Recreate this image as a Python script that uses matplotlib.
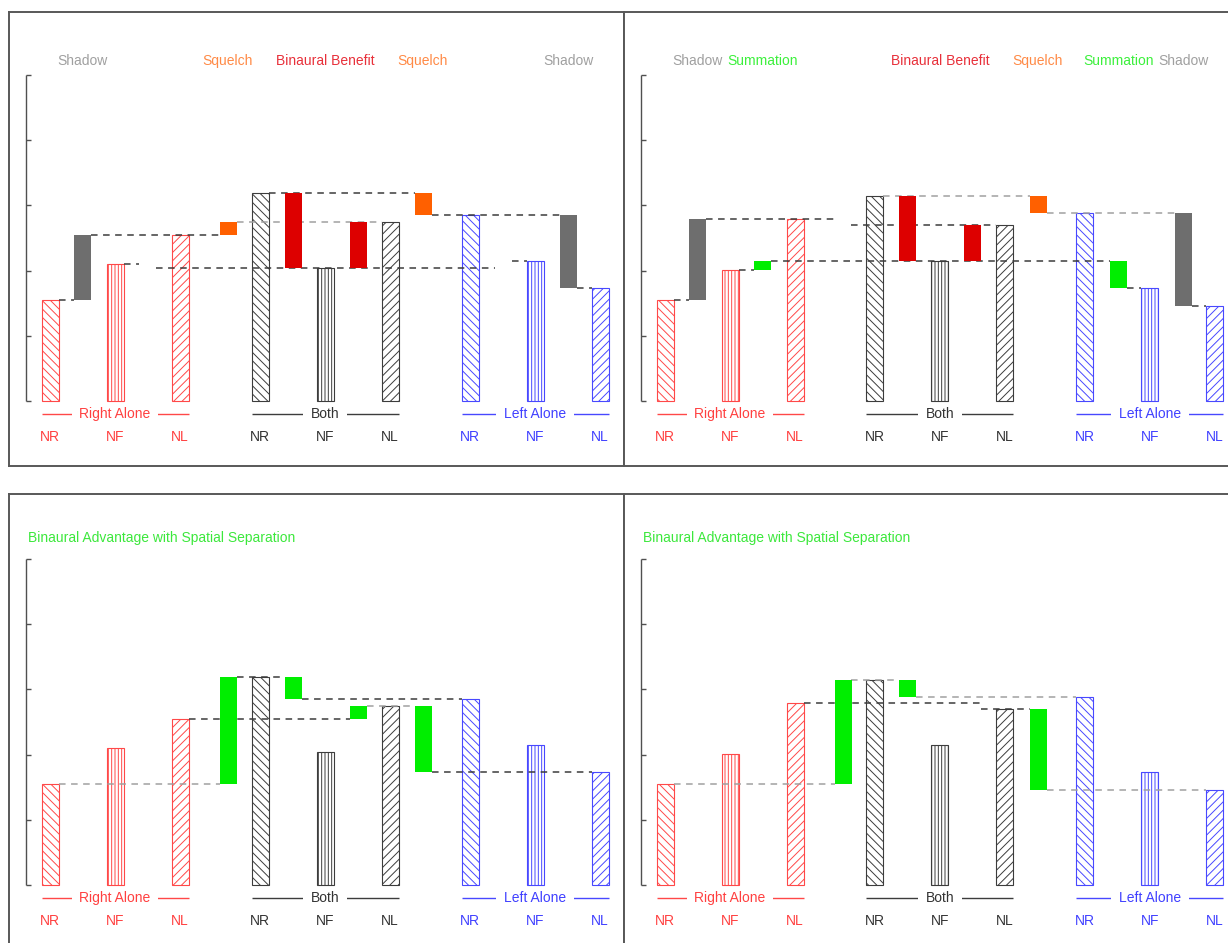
import matplotlib.pyplot as plt

plt.rcParams['font.family'] = ['Liberation Sans', 'DejaVu Sans']
plt.rcParams['hatch.linewidth'] = 0.7

# ---- data -------------------------------------------------------------
conditions = ["NR", "NF", "NL"]
groups = ["Right Alone", "Both", "Left Alone"]
group_keys = ["R", "B", "L"]

# left column (top-left and bottom-left panels)
right_a = [1.55, 2.10, 2.55]
both_a = [3.19, 2.04, 2.74]
left_a = [2.85, 2.15, 1.74]

# right column (top-right and bottom-right panels)
right_b = [1.55, 2.01, 2.79]
both_b = [3.15, 2.15, 2.70]
left_b = [2.89, 1.74, 1.45]

y_ticks = [0, 1, 2, 3, 4, 5]

headers_tl = [("Shadow", "g0"), ("Squelch", "g2"), ("Binaural Benefit", "g3|g4"),
              ("Squelch", "g5"), ("Shadow", "g7")]
headers_tr = [("Shadow", "g0"), ("Summation", "g1"), ("Binaural Benefit", "g3|g4"),
              ("Squelch", "g5"), ("Summation", "g6"), ("Shadow", "g7")]
title_bottom = "Binaural Advantage with Spatial Separation"

# floating difference bars: (slot, from level, to level, kind)
diffs_tl = [("g0", "R_NR", "R_NL", "shadow"), ("g2", "R_NL", "B_NL", "squelch"),
            ("g3", "B_NF", "B_NR", "benefit"), ("g4", "B_NF", "B_NL", "benefit"),
            ("g5", "L_NR", "B_NR", "squelch"), ("g7", "L_NL", "L_NR", "shadow")]
diffs_tr = [("g0", "R_NR", "R_NL", "shadow"), ("g1", "R_NF", "B_NF", "summation"),
            ("g3", "B_NF", "B_NR", "benefit"), ("g4", "B_NF", "B_NL", "benefit"),
            ("g5", "L_NR", "B_NR", "squelch"), ("g6", "L_NF", "B_NF", "summation"),
            ("g7", "L_NL", "L_NR", "shadow")]
diffs_bl = [("g2", "R_NR", "B_NR", "advantage"), ("g3", "L_NR", "B_NR", "advantage"),
            ("g4", "R_NL", "B_NL", "advantage"), ("g5", "L_NL", "B_NL", "advantage")]
diffs_br = [("g2", "R_NR", "B_NR", "advantage"), ("g3", "L_NR", "B_NR", "advantage"),
            ("g5", "L_NL", "B_NL", "advantage")]

# dashed guide lines: (level, from edge, to edge, dark?)
guides_tl = [("R_NR", "R_NR.r", "g0.l", True), ("R_NL", "g0.r", "g2.l", True),
             ("R_NF", "R_NF.r", "g1.l", True), ("B_NF", "g1.r", "g6.l", True),
             ("B_NL", "g2.r", "B_NL.l", False), ("B_NR", "B_NR.r", "g5.l", True),
             ("L_NR", "g5.r", "g7.l", True), ("L_NF", "g6.r", "L_NF.l", True),
             ("L_NL", "g7.r", "L_NL.l", True)]
guides_tr = [("R_NR", "R_NR.r", "g0.l", True), ("R_NL", "g0.r", "g2.l", True),
             ("R_NF", "R_NF.r", "g1.l", True), ("B_NF", "g1.r", "g6.l", True),
             ("B_NL", "g2.r", "B_NL.l", True), ("B_NR", "B_NR.r", "g5.l", False),
             ("L_NR", "g5.r", "g7.l", False), ("L_NF", "g6.r", "L_NF.l", True),
             ("L_NL", "g7.r", "L_NL.l", True)]
guides_bl = [("R_NR", "R_NR.r", "g2.l", False), ("R_NL", "R_NL.r", "g4.l", True),
             ("B_NR", "g2.r", "g3.l", True), ("L_NR", "g3.r", "L_NR.l", True),
             ("B_NL", "g4.r", "g5.l", False), ("L_NL", "g5.r", "L_NL.l", True)]
guides_br = [("R_NR", "R_NR.r", "g2.l", False), ("R_NL", "R_NL.r", "g4.r", True),
             ("B_NR", "g2.r", "g3.l", False), ("L_NR", "g3.r", "L_NR.l", False),
             ("B_NL", "g4.r", "g5.l", True), ("L_NL", "g5.r", "L_NL.l", False)]

# ---- layout / style ---------------------------------------------------
W, H = 1228, 943
PANEL_W, PANEL_H = 615, 454
UNIT = 65.2            # pixels per y unit
BAR_W = 17
group_x0 = [41, 251, 461]
cond_step = 65
gap_x = [73.5, 138.5, 219, 284, 349, 414, 494.5, 559.5]

group_edge = {"R": "#ff4848", "B": "#3c3c3c", "L": "#4848ff"}
group_text = {"R": "#ff4040", "B": "#333333", "L": "#4040ff"}
hatches = {"NR": "\\\\\\\\", "NF": "|||||", "NL": "////"}
diff_color = {"shadow": "#6e6e6e", "squelch": "#ff6000", "benefit": "#dd0000",
              "summation": "#00ee00", "advantage": "#00ee00"}
header_color = {"Shadow": "#a0a0a0", "Squelch": "#ff8a46",
                "Binaural Benefit": "#e8303a", "Summation": "#3cf03c"}

slot_x = {}
for g, key in enumerate(group_keys):
    for i, c in enumerate(conditions):
        slot_x[key + "_" + c] = group_x0[g] + i * cond_step
for i, x in enumerate(gap_x):
    slot_x["g%d" % i] = x


def edge(spec):
    name, side = spec.split(".")
    return slot_x[name] + (BAR_W / 2 if side == "r" else -BAR_W / 2)


def draw_panel(fig, left, top, base, right_vals, both_vals, left_vals,
               diffs, guides, headers=None, title=None):
    ax = fig.add_axes([left / W, 1 - (top + PANEL_H) / H, PANEL_W / W, PANEL_H / H])
    ax.set_xlim(0, PANEL_W)
    ax.set_ylim(-(PANEL_H - base) / UNIT, base / UNIT)
    ax.set_xticks([])
    ax.set_yticks([])
    for sp in ax.spines.values():
        sp.set_color("#585858")
        sp.set_linewidth(1.4)

    levels = {}
    for key, vals in zip(group_keys, [right_vals, both_vals, left_vals]):
        for c, v in zip(conditions, vals):
            levels[key + "_" + c] = v

    # y axis bracket
    ax.vlines(17, y_ticks[0], y_ticks[-1], color="#505050", lw=1.0)
    ax.hlines(y_ticks, 17, 22, color="#505050", lw=1.0)

    # hatched bars
    for key in group_keys:
        for c in conditions:
            name = key + "_" + c
            ax.bar(slot_x[name], levels[name], width=BAR_W, color="white",
                   edgecolor=group_edge[key], hatch=hatches[c], linewidth=0.8, zorder=2)

    # dashed guides
    for lvl, a, b, dark in guides:
        ax.hlines(levels[lvl], edge(a), edge(b), colors="#3c3c3c" if dark else "#a0a0a0",
                  linestyles=(0, (4.3, 3.6)), linewidth=1.1, zorder=3)

    # floating difference bars
    for slot, lo, hi, kind in diffs:
        y0, y1 = sorted([levels[lo], levels[hi]])
        ax.bar(slot_x[slot], y1 - y0, bottom=y0, width=BAR_W,
               color=diff_color[kind], linewidth=0, zorder=4)

    # group and condition labels (label box sits under the bars)
    for key, gname in zip(group_keys, groups):
        xs = [slot_x[key + "_" + c] for c in conditions]
        ax.hlines(-0.2, xs[0] - BAR_W / 2, xs[-1] + BAR_W / 2, color=group_edge[key],
                  lw=1.0, zorder=1)
        ax.text(xs[1], -0.2, gname, ha="center", va="center", fontsize=10,
                color=group_text[key], zorder=1.5,
                bbox=dict(facecolor="white", edgecolor="none", pad=5.5))
        for c, x in zip(conditions, xs):
            ax.text(x, -0.55, c, ha="center", va="center", fontsize=10,
                    color=group_text[key])

    if headers:
        for text, where in headers:
            x = sum(slot_x[s] for s in where.split("|")) / len(where.split("|"))
            ax.text(x, 5.22, text, ha="center", va="center", fontsize=10,
                    color=header_color[text])
    if title:
        ax.text(19, 5.32, title, ha="left", va="center", fontsize=10, color="#3ce83c")
    return ax


fig = plt.figure(figsize=(W / 100, H / 100), dpi=100)
draw_panel(fig, 9, 12, 389, right_a, both_a, left_a, diffs_tl, guides_tl, headers=headers_tl)
draw_panel(fig, 624, 12, 389, right_b, both_b, left_b, diffs_tr, guides_tr, headers=headers_tr)
draw_panel(fig, 9, 494, 391, right_a, both_a, left_a, diffs_bl, guides_bl, title=title_bottom)
draw_panel(fig, 624, 494, 391, right_b, both_b, left_b, diffs_br, guides_br, title=title_bottom)

fig.savefig("out.png", dpi=100)
plt.close(fig)
